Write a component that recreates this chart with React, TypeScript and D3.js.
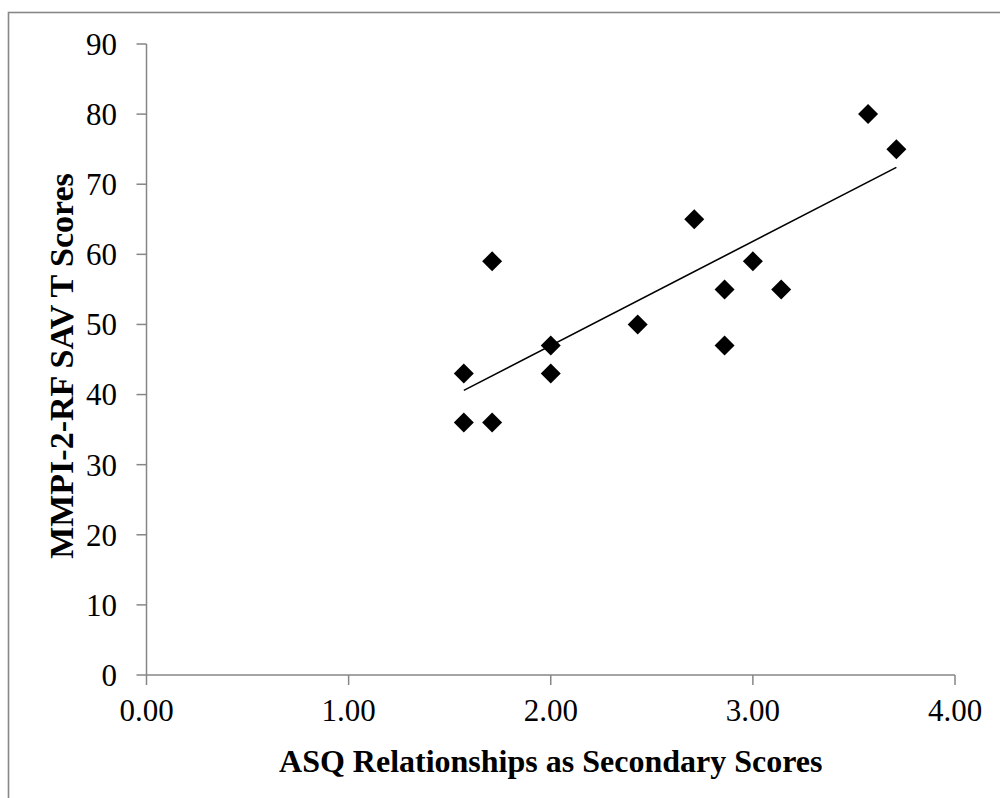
import React from "react";
import * as d3 from "d3";

const xValues = [1.57, 1.57, 1.71, 1.71, 2.0, 2.0, 2.43, 2.71, 2.86, 2.86, 3.0, 3.14, 3.57, 3.71];
const yValues = [43, 36, 36, 59, 47, 43, 50, 65, 55, 47, 59, 55, 80, 75];
// linear trendline at its two ends
const trendX = [1.57, 3.71];
const trendY = [40.6, 72.4];
const xTicks = [0, 1, 2, 3, 4];
const yTicks = [0, 10, 20, 30, 40, 50, 60, 70, 80, 90];
const xTitle = "ASQ Relationships as Secondary Scores";
const yTitle = "MMPI-2-RF SAV T Scores";

const W = 1000;
const H = 798;
const left = 146.5;
const right = 955;
const top = 44;
const bottom = 675;
const font = "'Liberation Serif', 'Times New Roman', serif";
const axisColor = "#868686";

export default function App() {
  const x = d3.scaleLinear().domain([0, 4]).range([left, right]);
  const y = d3.scaleLinear().domain([0, 90]).range([bottom, top]);

  const line = d3
    .line<number>()
    .x((_, i) => x(trendX[i]))
    .y((d) => y(d));

  const r = 10;
  const diamond = (cx: number, cy: number) =>
    `M${cx},${cy - r}L${cx + r},${cy}L${cx},${cy + r}L${cx - r},${cy}Z`;

  return (
    <svg
      width={W}
      height={H}
      style={{ position: "absolute", left: 0, top: 0, background: "#fff" }}
      fontFamily={font}
    >
      <rect x={8.5} y={12.5} width={1100} height={900} fill="none" stroke="#888" strokeWidth={1.6} />
      {/* y axis */}
      <line x1={left} x2={left} y1={top} y2={bottom} stroke={axisColor} strokeWidth={1.5} />
      {yTicks.map((t) => (
        <g key={"y" + t}>
          <line x1={left - 10} x2={left} y1={y(t)} y2={y(t)} stroke={axisColor} strokeWidth={1.5} />
          <text x={117} y={y(t)} dy="0.35em" textAnchor="end" fontSize={31} fill="#000">
            {t}
          </text>
        </g>
      ))}
      {/* x axis */}
      <line x1={left} x2={right} y1={bottom} y2={bottom} stroke={axisColor} strokeWidth={1.5} />
      {xTicks.map((t) => (
        <g key={"x" + t}>
          <line x1={x(t)} x2={x(t)} y1={bottom} y2={bottom + 10} stroke={axisColor} strokeWidth={1.5} />
          <text x={x(t)} y={721} textAnchor="middle" fontSize={31} fill="#000">
            {t.toFixed(2)}
          </text>
        </g>
      ))}
      <path d={line(trendY) || ""} stroke="#000" strokeWidth={1.6} fill="none" />
      {xValues.map((v, i) => (
        <path key={"p" + i} d={diamond(x(v), y(yValues[i]))} fill="#000" />
      ))}
      <text x={(left + right) / 2} y={772} textAnchor="middle" fontSize={32} fontWeight="bold" fill="#000">
        {xTitle}
      </text>
      <text
        transform={`translate(73,366) rotate(-90)`}
        textAnchor="middle"
        fontSize={34}
        fontWeight="bold"
        fill="#000"
      >
        {yTitle}
      </text>
    </svg>
  );
}
